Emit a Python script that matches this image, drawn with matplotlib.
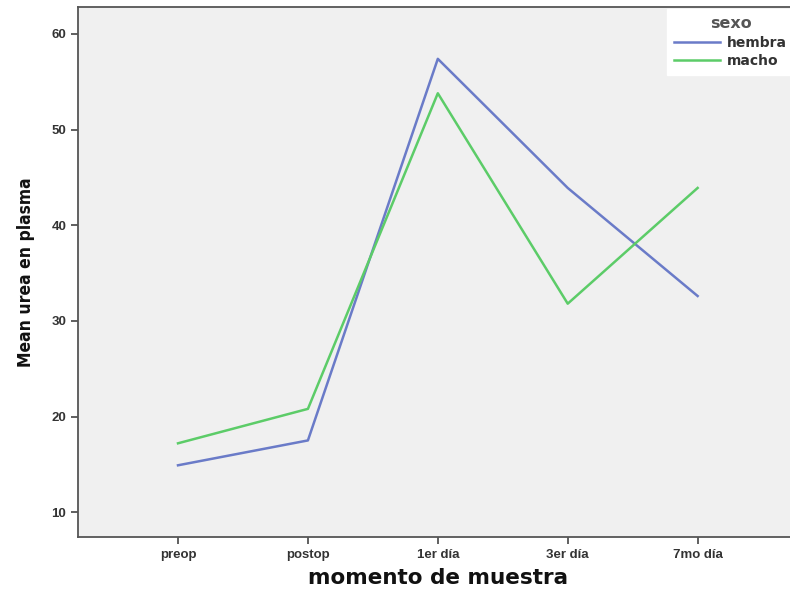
import matplotlib
matplotlib.use("Agg")
import matplotlib.pyplot as plt

# Mean urea by sampling moment and sex
moments = ["preop", "postop", "1er día", "3er día", "7mo día"]
hembra = [14.9, 17.5, 57.4, 43.9, 32.6]
macho = [17.2, 20.8, 53.8, 31.8, 43.9]
y_ticks = [10, 20, 30, 40, 50, 60]

plt.rcParams["font.family"] = ["Liberation Sans", "DejaVu Sans"]

fig = plt.figure(figsize=(7.9, 5.9), dpi=100)
ax = fig.add_axes([0.0987, 0.0898, 0.911, 0.898])
ax.set_facecolor("#f0f0f0")

x = range(len(moments))
ax.plot(x, hembra, color="#6a7bc8", lw=1.8, label="hembra")
ax.plot(x, macho, color="#5ccc68", lw=1.8, label="macho")

ax.set_xlim(-0.77, 4.77)
ax.set_ylim(7.4, 62.8)
ax.set_xticks(list(x))
ax.set_xticklabels(moments)
ax.set_yticks(y_ticks)

for side in ["left", "bottom", "top", "right"]:
    ax.spines[side].set_color("#555555")
    ax.spines[side].set_linewidth(1.3)

ax.tick_params(axis="both", colors="#444444", labelcolor="#333333",
               labelsize=9.5, length=5, width=1.2)
for lbl in ax.get_xticklabels() + ax.get_yticklabels():
    lbl.set_fontweight("bold")

ax.set_xlabel("momento de muestra", fontsize=15.5, fontweight="bold",
              family="DejaVu Sans", color="#111111", labelpad=5)
ax.set_ylabel("Mean urea en plasma", fontsize=12.5, fontweight="bold",
              family="DejaVu Sans", stretch="condensed",
              color="#111111", labelpad=12)

leg = ax.legend(title="sexo", loc="upper left", bbox_to_anchor=(0.818, 0.997),
                frameon=True, fancybox=False, prop={"family": "DejaVu Sans",
                                                    "weight": "bold", "size": 10},
                title_fontsize=11.5, handlelength=3.3, borderpad=0.55,
                labelspacing=0.3, handletextpad=0.5, borderaxespad=0)
leg.get_frame().set_facecolor("white")
leg.get_frame().set_edgecolor("white")
leg.get_frame().set_alpha(1.0)
for t in leg.get_texts():
    t.set_color("#333333")
leg.get_title().set_fontweight("bold")
leg.get_title().set_family("DejaVu Sans")
leg.get_title().set_color("#555555")

fig.savefig("out.png", dpi=100)
